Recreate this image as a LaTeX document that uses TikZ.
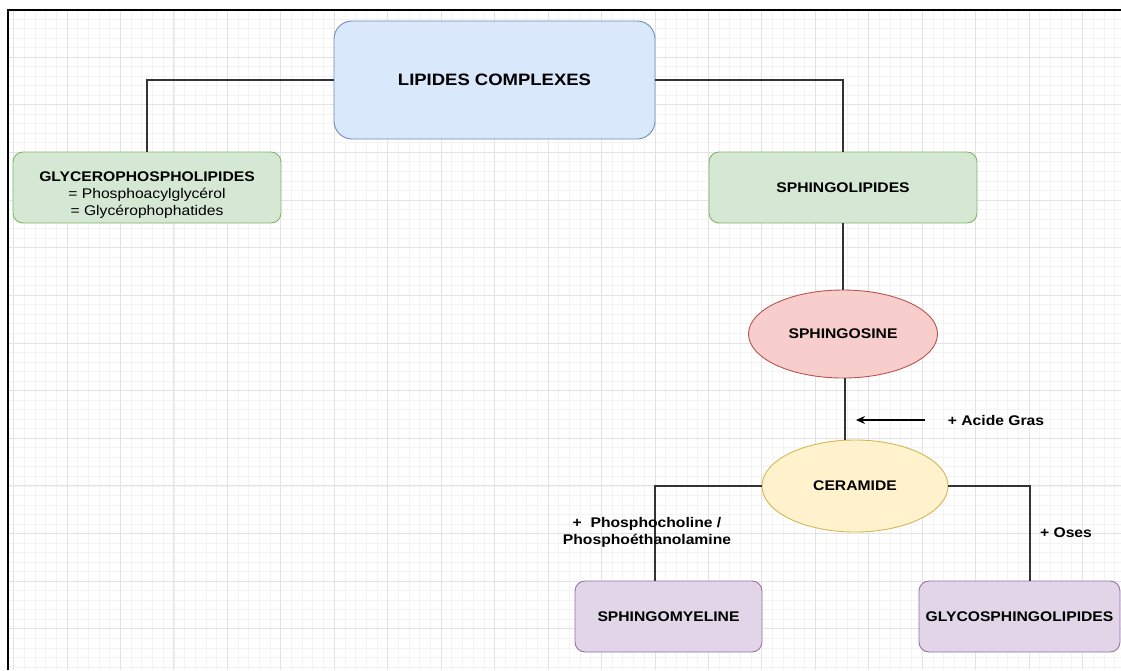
\documentclass[tikz,border=0pt]{standalone}
\usepackage{fontspec}
\setmainfont{Liberation Sans}[FakeStretch=1.12]
\usetikzlibrary{shapes.geometric,arrows.meta}
\definecolor{bluef}{HTML}{DAE8FC}\definecolor{blues}{HTML}{6C8EBF}
\definecolor{greenf}{HTML}{D5E8D4}\definecolor{greens}{HTML}{82B366}
\definecolor{redf}{HTML}{F8CECC}\definecolor{reds}{HTML}{B85450}
\definecolor{yelf}{HTML}{FFF2CC}\definecolor{yels}{HTML}{D6B656}
\definecolor{purf}{HTML}{E1D5E7}\definecolor{purs}{HTML}{9673A6}
\definecolor{gridminor}{HTML}{F3F3F3}\definecolor{gridmajor}{HTML}{E3E3E3}
\definecolor{conn}{HTML}{333333}
\begin{document}
\begin{tikzpicture}[x=1pt,y=-1pt,
  txt/.style={font=\bfseries\fontsize{14}{17}\selectfont, text=black},
  rbox/.style={rectangle, rounded corners=10pt, draw, line width=0.9pt, inner sep=0pt, align=center, txt},
  ebox/.style={ellipse, draw, line width=0.9pt, inner sep=0pt, align=center, txt},
  link/.style={draw=conn, line width=1.3pt},
  lbl/.style={txt, align=center, inner sep=0pt}
]
\useasboundingbox (0,0) rectangle (1121,670);
\fill[white] (0,0) rectangle (1121,670);
% grid
\foreach \i in {0,...,104} \draw[gridminor, line width=0.7pt] ({13.5+10.69*\i},10) -- ({13.5+10.69*\i},670);
\foreach \i in {0,...,69} \draw[gridminor, line width=0.7pt] (8,{9.35+9.53*\i}) -- (1121,{9.35+9.53*\i});
\foreach \i in {0,...,20} \draw[gridmajor, line width=0.8pt] ({13.5+53.45*\i},10) -- ({13.5+53.45*\i},670);
\foreach \i in {0,...,13} \draw[gridmajor, line width=0.8pt] (8,{9.35+47.65*\i}) -- (1121,{9.35+47.65*\i});
% frame
\draw[line width=2pt, black] (7.5,670) -- (7.5,9.5) -- (1121,9.5);

% nodes
\node[rbox, rounded corners=18pt, fill=bluef, draw=blues, minimum width=321, minimum height=118,
      font=\bfseries\fontsize{16.5}{19}\selectfont] (lc) at (494.5,80) {LIPIDES COMPLEXES};
\node[rbox, fill=greenf, draw=greens, minimum width=268, minimum height=71] (gp) at (147,187.5)
  {\rule{0pt}{24pt}GLYCEROPHOSPHOLIPIDES\\\mdseries = Phosphoacylglycérol\\\mdseries = Glycérophophatides};
\node[rbox, fill=greenf, draw=greens, minimum width=268, minimum height=71] (sl) at (843,187.5) {SPHINGOLIPIDES};
\node[ebox, fill=redf, draw=reds, minimum width=189, minimum height=88] (sg) at (843,334) {SPHINGOSINE};
\node[ebox, fill=yelf, draw=yels, minimum width=186, minimum height=92] (cer) at (855,486) {CERAMIDE};
\node[rbox, fill=purf, draw=purs, minimum width=187, minimum height=71] (sm) at (668.5,616.5) {SPHINGOMYELINE};
\node[rbox, fill=purf, draw=purs, minimum width=201, minimum height=71] (gs) at (1019.5,616.5) {GLYCOSPHINGOLIPIDES};

% connectors
\draw[link] (lc.west) -| (gp.north);
\draw[link] (lc.east) -| (sl.north);
\draw[link] (sl.south) -- (sg.north);
\draw[link] ([xshift=2pt]sg.south) -- ([xshift=2pt]sg.south |- cer.north);
\draw[link] (cer.west) -| ([xshift=-13.5pt]sm.north);
\draw[link] (cer.east) -| ([xshift=10.5pt]gs.north);

% acid arrow
\coordinate (a1) at (925,420);
\coordinate (a2) at (856,420);
\draw[draw=black, line width=1.2pt, -{Stealth[length=9pt,width=8pt,inset=3pt]}] (a1) -- (a2);
\node[lbl] (ag) at (996,420) {+ Acide Gras};
\node[lbl] (ph) at (647,532.5) {+\ \ Phosphocholine /\\Phosphoéthanolamine};
\node[lbl] (os) at (1066,533) {+ Oses};
\end{tikzpicture}
\end{document}
